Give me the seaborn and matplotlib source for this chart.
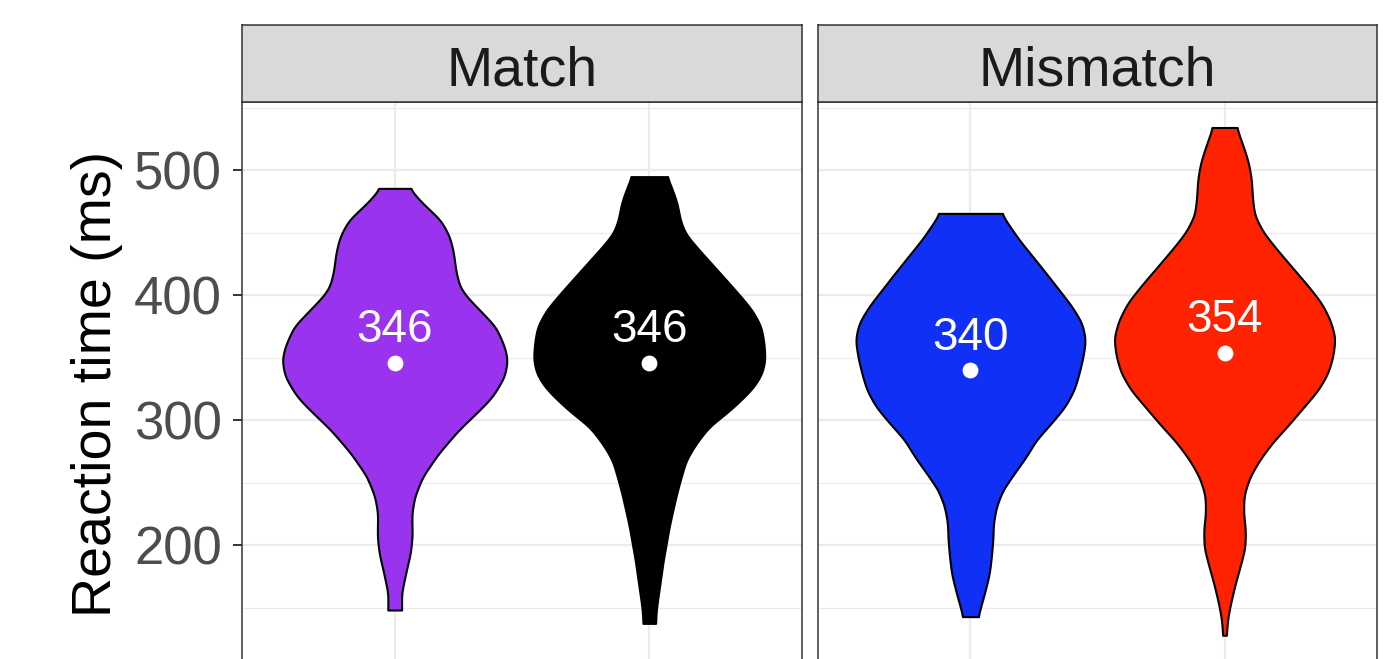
import numpy as np
import pandas as pd
import seaborn as sns
import matplotlib.pyplot as plt

# facet panels and the two groups inside each panel
panel_names = ["Match", "Mismatch"]
group_names = ["first", "second"]

# mean reaction time per violin (panel, group)
mean_panel = ["Match", "Match", "Mismatch", "Mismatch"]
mean_group = ["first", "second", "first", "second"]
mean_rt = [346, 346, 340, 354]

# violin outlines: RT level (ms) and relative density
rt_match_1 = [485.3, 473.3, 460, 446.7, 433.3, 420, 406.7, 398.7, 388, 374.7, 358.7, 348,
              334.7, 318.7, 308, 292, 273.3, 254.7, 238.7, 225.3, 206.7, 193.3, 180, 161.3, 148]
dens_match_1 = [.125, .241, .397, .474, .509, .526, .560, .621, .733, .871, .948, .974,
                .948, .845, .733, .552, .379, .241, .172, .147, .151, .135, .101, .058, .060]

rt_match_2 = [494.7, 486.7, 473.3, 460, 449.3, 438.7, 428, 414.7, 401.3, 388, 374.7, 361.3,
              348, 337.3, 326.7, 316, 305.3, 294.7, 281.3, 268, 254.7, 241.3, 228, 214.7,
              201.3, 188, 174.7, 161.3, 148, 137.3]
dens_match_2 = [.151, .190, .241, .267, .310, .405, .509, .638, .767, .888, .966, .991,
                1.0, .974, .905, .793, .664, .517, .405, .319, .276, .237, .204, .172,
                .147, .121, .101, .080, .060, .054]

rt_mismatch_1 = [465.3, 457.3, 444, 430.7, 417.3, 404, 390.7, 377.3, 364, 350.7, 337.3, 324,
                 310.7, 297.3, 284, 270.7, 257.3, 244, 230.7, 217.3, 204, 190.7, 177.3, 164,
                 150.7, 142.7]
dens_mismatch_1 = [.266, .323, .422, .539, .655, .767, .879, .966, .996, .974, .940, .897,
                   .819, .698, .569, .483, .379, .280, .224, .198, .194, .181, .164, .129,
                   .089, .065]

rt_mismatch_2 = [534, 520, 506, 492, 478, 464, 450, 436, 422, 408, 394, 380, 365.9, 351.9,
                 337.9, 323.9, 309.9, 295.9, 281.9, 267.9, 253.9, 239.9, 225.9, 211.9,
                 197.9, 183.9, 169.8, 155.8, 141.8, 127.8]
dens_mismatch_2 = [.103, .158, .207, .233, .241, .259, .336, .457, .586, .716, .836, .914,
                   .957, .940, .897, .810, .681, .552, .414, .302, .216, .168, .164, .181,
                   .177, .138, .095, .058, .028, .015]

profiles = {
    ("Match", "first"): (rt_match_1, dens_match_1),
    ("Match", "second"): (rt_match_2, dens_match_2),
    ("Mismatch", "first"): (rt_mismatch_1, dens_mismatch_1),
    ("Mismatch", "second"): (rt_mismatch_2, dens_mismatch_2),
}
fill_colors = {
    ("Match", "first"): "#9933EE",
    ("Match", "second"): "#000000",
    ("Mismatch", "first"): "#1030F5",
    ("Mismatch", "second"): "#FF2200",
}

means_df = pd.DataFrame({"panel": mean_panel, "group": mean_group, "rt": mean_rt})
means_df["pos"] = means_df["group"].map({g: i for i, g in enumerate(group_names)})


def smooth_outline(rt, dens, n=500, sigma=4.0):
    # resample the read-off outline and soften the corners between readings
    rt = np.asarray(rt, dtype=float)[::-1]
    dens = np.asarray(dens, dtype=float)[::-1]
    y = np.linspace(rt[0], rt[-1], n)
    d = np.interp(y, rt, dens)
    step = y[1] - y[0]
    k = int(3 * sigma / step)
    kernel = np.exp(-0.5 * (np.arange(-k, k + 1) * step / sigma) ** 2)
    kernel /= kernel.sum()
    padded = np.pad(d, k, mode="edge")
    return y, np.convolve(padded, kernel, mode="valid")


sns.set_theme(style="whitegrid")
plt.rcParams['font.family'] = ['Liberation Sans', 'DejaVu Sans']

W, H = 1389, 659
fig = plt.figure(figsize=(W / 100, H / 100), dpi=100)
panel_px = [(242, 802), (818, 1377)]
panel_top, strip_top = 102, 25
half_width = 0.455

for k, name in enumerate(panel_names):
    x0, x1 = panel_px[k]
    ax = fig.add_axes([x0 / W, 0, (x1 - x0) / W, (H - panel_top) / H])
    ax.set_facecolor("white")

    for i, grp in enumerate(group_names):
        rt, dens = profiles[(name, grp)]
        y, d = smooth_outline(rt, dens)
        d = d * half_width
        ax.fill_betweenx(y, i - d, i + d, facecolor=fill_colors[(name, grp)],
                         edgecolor="black", linewidth=1.5, zorder=3)

    sub = means_df[means_df["panel"] == name]
    sns.scatterplot(data=sub, x="pos", y="rt", color="white", s=130, linewidth=0,
                    ax=ax, zorder=4, legend=False)
    for _, row in sub.iterrows():
        ax.text(row["pos"], row["rt"] + 16, f"{row['rt']}", color="white", fontsize=33,
                ha="center", va="baseline", zorder=5)

    ax.set_xlim(-0.6, 1.6)
    ax.set_ylim(108.8, 554.4)
    ax.set_xticks([0, 1])
    ax.set_yticks([200, 300, 400, 500])
    ax.set_yticks([150, 250, 350, 450, 550], minor=True)
    ax.grid(True, which="major", color="#EBEBEB", linewidth=1.6)
    ax.grid(True, which="minor", axis="y", color="#EBEBEB", linewidth=0.8)
    ax.set_xlabel("")
    ax.set_ylabel("")
    ax.tick_params(axis="x", bottom=False, labelbottom=False)
    if k == 0:
        ax.tick_params(axis="y", which="major", left=True, length=6.5, width=1.4,
                       color="#333333", labelsize=38, labelcolor="#4D4D4D", pad=8)
    else:
        ax.tick_params(axis="y", left=False, labelleft=False)
    ax.tick_params(axis="y", which="minor", left=False)
    for side in ["left", "right", "top"]:
        ax.spines[side].set_visible(True)
        ax.spines[side].set_color("#333333")
        ax.spines[side].set_linewidth(1.1)
    ax.spines["bottom"].set_visible(False)

    # facet strip
    sax = fig.add_axes([x0 / W, (H - panel_top) / H, (x1 - x0) / W, (panel_top - strip_top) / H])
    sax.set_facecolor("#D9D9D9")
    sax.set_xticks([])
    sax.set_yticks([])
    sax.grid(False)
    for side in sax.spines.values():
        side.set_visible(True)
        side.set_color("#333333")
        side.set_linewidth(1.1)
    sax.text(0.5, 17 / 77, name, transform=sax.transAxes, ha="center", va="baseline",
             fontsize=40, color="#1A1A1A")

fig.text(97 / W, 1 - 383.5 / H, "Reaction time (ms)", rotation=90, ha="center",
         va="center", fontsize=40, color="black")

fig.savefig("out.png", dpi=100)
